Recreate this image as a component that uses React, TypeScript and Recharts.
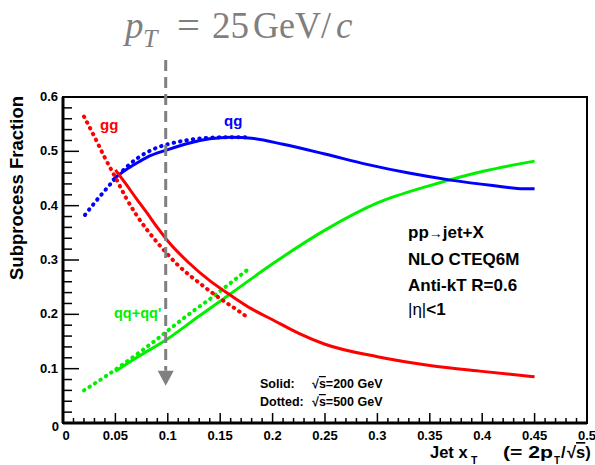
import React from 'react';
import { LineChart, Line, XAxis, YAxis, ReferenceLine, ReferenceDot, ReferenceArea } from 'recharts';

// ---- data (x_T, fraction) ----
const gg200X = [0.05, 0.06, 0.07, 0.08, 0.09, 0.1, 0.12, 0.14, 0.16, 0.18, 0.2, 0.225, 0.25, 0.3, 0.35, 0.4, 0.45];
const gg200Y = [0.466, 0.44, 0.413, 0.387, 0.36, 0.335, 0.295, 0.262, 0.235, 0.21, 0.19, 0.165, 0.145, 0.122, 0.106, 0.095, 0.085];
const gg500X = [0.02, 0.03, 0.04, 0.05, 0.06, 0.07, 0.08, 0.09, 0.1, 0.11, 0.12, 0.13, 0.14, 0.15, 0.16, 0.17, 0.178];
const gg500Y = [0.564, 0.527, 0.488, 0.452, 0.415, 0.383, 0.356, 0.332, 0.31, 0.29, 0.273, 0.258, 0.243, 0.229, 0.216, 0.203, 0.192];
const qg200X = [0.047, 0.06, 0.07, 0.08, 0.1, 0.12, 0.14, 0.16, 0.18, 0.21, 0.25, 0.29, 0.33, 0.37, 0.41, 0.44, 0.45];
const qg200Y = [0.447, 0.466, 0.478, 0.489, 0.503, 0.515, 0.523, 0.526, 0.524, 0.513, 0.495, 0.476, 0.46, 0.447, 0.437, 0.431, 0.431];
const qg500X = [0.021, 0.03, 0.04, 0.05, 0.06, 0.07, 0.08, 0.09, 0.1, 0.12, 0.14, 0.16, 0.178];
const qg500Y = [0.383, 0.405, 0.428, 0.45, 0.47, 0.486, 0.498, 0.507, 0.513, 0.521, 0.525, 0.526, 0.526];
const qq200X = [0.05, 0.07, 0.1, 0.13, 0.16, 0.2, 0.25, 0.3, 0.35, 0.4, 0.45];
const qq200Y = [0.095, 0.12, 0.155, 0.197, 0.238, 0.293, 0.355, 0.405, 0.437, 0.463, 0.482];
const qq500X = [0.02, 0.04, 0.06, 0.08, 0.1, 0.12, 0.14, 0.16, 0.178];
const qq500Y = [0.06, 0.085, 0.112, 0.14, 0.17, 0.2, 0.228, 0.258, 0.285];

const xTicks = Array.from({ length: 51 }, (_, i) => +(i * 0.01).toFixed(2));
const yTicks = Array.from({ length: 31 }, (_, i) => +(i * 0.02).toFixed(2));
const xLabels = ['0', '0.05', '0.1', '0.15', '0.2', '0.25', '0.3', '0.35', '0.4', '0.45', '0.5'];
const yLabels = ['0', '0.1', '0.2', '0.3', '0.4', '0.5', '0.6'];

const arrowX = 0.098;
const arrowTopY = 0.668;
const arrowBaseY = 0.096;
const arrowMidY = 0.0825;

const zip = (xs: number[], ys: number[]) => xs.map((x, i) => ({ x, y: ys[i] }));

const RED = '#ff0000';
const BLUE = '#0000ff';
const GREEN = '#00f000';
const FONT = '"Liberation Sans", Arial, Helvetica, sans-serif';

const isMajorX = (v: number) => Math.abs(v * 20 - Math.round(v * 20)) < 1e-6;
const isMajorY = (v: number) => Math.abs(v * 10 - Math.round(v * 10)) < 1e-6;

const XTick = (props: any) => {
  const { x, y, payload } = props;
  const v = payload.value as number;
  const major = isMajorX(v);
  const label = major ? xLabels[Math.round(v * 20)] : null;
  return (
    <g>
      <line x1={x} x2={x} y1={y} y2={y - (major ? 10 : 5)} stroke="#000" strokeWidth={1.5} />
      {label !== null && (
        <text x={label === '0' ? x + 3 : x} y={y + 17} textAnchor="middle" fontFamily={FONT} fontWeight="bold" fontSize={13} fill="#000">
          {label}
        </text>
      )}
    </g>
  );
};

const YTick = (props: any) => {
  const { x, y, payload } = props;
  const v = payload.value as number;
  const major = isMajorY(v);
  const label = major ? yLabels[Math.round(v * 10)] : null;
  return (
    <g>
      <line x1={x} x2={x + (major ? 16 : 9)} y1={y} y2={y} stroke="#000" strokeWidth={1.5} />
      {label !== null && (
        <text x={label === '0' ? x - 4 : x - 5} y={label === '0' ? y + 8 : y + 4} textAnchor="end" fontFamily={FONT} fontWeight="bold" fontSize={13} fill="#000">
          {label}
        </text>
      )}
    </g>
  );
};

const Triangle = (props: any) => {
  const { cx, cy } = props;
  return <polygon points={`${cx - 8},${cy - 7.5} ${cx + 8},${cy - 7.5} ${cx},${cy + 7.5}`} fill="#808080" />;
};

const solid = { strokeWidth: 3, dot: false, isAnimationActive: false, type: 'monotone' as const };
const dotted = { strokeWidth: 4, dot: false, isAnimationActive: false, type: 'monotone' as const, strokeDasharray: '0.5 6', strokeLinecap: 'round' as const };

export default function App() {
  return (
    <div style={{ position: 'absolute', left: 0, top: 0, width: 595, height: 465, background: '#fff' }}>
      <LineChart width={595} height={465} margin={{ top: 97, right: 8, bottom: 2, left: 3 }}>
        <XAxis
          type="number"
          dataKey="x"
          domain={[0, 0.5]}
          ticks={xTicks}
          interval={0}
          height={40}
          tickSize={0}
          tickMargin={0}
          tickLine={false}
          axisLine={{ stroke: '#000', strokeWidth: 3 }}
          tick={<XTick />}
          allowDataOverflow
        />
        <YAxis
          type="number"
          dataKey="y"
          domain={[0, 0.6]}
          ticks={yTicks}
          interval={0}
          width={60}
          tickSize={0}
          tickMargin={0}
          tickLine={false}
          axisLine={{ stroke: '#000', strokeWidth: 3 }}
          tick={<YTick />}
          allowDataOverflow
        />
        <ReferenceArea x1={0} x2={0.5} y1={0} y2={0.6} fill="none" stroke="#000" strokeWidth={2} ifOverflow="visible" />
        <Line data={zip(qq500X, qq500Y)} dataKey="y" stroke={GREEN} {...dotted} />
        <Line data={zip(qq200X, qq200Y)} dataKey="y" stroke={GREEN} {...solid} />
        <Line data={zip(qg500X, qg500Y)} dataKey="y" stroke={BLUE} {...dotted} />
        <Line data={zip(qg200X, qg200Y)} dataKey="y" stroke={BLUE} {...solid} />
        <Line data={zip(gg500X, gg500Y)} dataKey="y" stroke={RED} {...dotted} />
        <Line data={zip(gg200X, gg200Y)} dataKey="y" stroke={RED} {...solid} />
        <ReferenceLine
          segment={[{ x: arrowX, y: arrowTopY }, { x: arrowX, y: arrowBaseY }]}
          stroke="#808080"
          strokeWidth={3}
          strokeDasharray="11 6"
          ifOverflow="visible"
        />
        <ReferenceDot x={arrowX} y={arrowMidY} r={8} shape={<Triangle />} ifOverflow="visible" />
      </LineChart>
      <svg width={595} height={465} style={{ position: 'absolute', left: 0, top: 0, pointerEvents: 'none' }}>
        {/* title */}
        <g fill="#7f7f7f" fontFamily='"Liberation Serif", "DejaVu Serif", serif' fontSize={37}>
          <text x={125} y={38} fontStyle="italic">p</text>
          <text x={143} y={47} fontStyle="italic" fontSize={26}>T</text>
          <text x={177} y={38} textLength={23} lengthAdjust="spacingAndGlyphs">=</text>
          <text x={212} y={38}>25</text>
          <text x={253} y={38} textLength={78} lengthAdjust="spacingAndGlyphs">GeV/</text>
          <text x={336} y={38} fontStyle="italic">c</text>
        </g>
        {/* y axis title */}
        <text x={0} y={0} transform="translate(23,188) rotate(-90)" textAnchor="middle" fontFamily={FONT} fontWeight="bold" fontSize={18.5} fill="#000">
          Subprocess Fraction
        </text>
        {/* x axis title */}
        <g fontFamily={FONT} fontWeight="bold" fill="#000">
          <text x={430} y={458} fontSize={16.5}>Jet x</text>
          <text x={471} y={464} fontSize={10.5}>T</text>
          <text x={503} y={458} fontSize={16.5} textLength={50} lengthAdjust="spacingAndGlyphs">(= 2p</text>
          <text x={554} y={464} fontSize={10}>T</text>
          <text x={561} y={458} fontSize={16.5}>/</text>
          <text x={567} y={458} fontSize={16.5}>√<tspan textDecoration="overline">s</tspan>)</text>
        </g>
        {/* curve labels */}
        <text x={100} y={130} fontFamily={FONT} fontWeight="bold" fontSize={15} fill={RED}>gg</text>
        <text x={224} y={126} fontFamily={FONT} fontWeight="bold" fontSize={15} fill={BLUE}>qg</text>
        <text x={114} y={318} fontFamily={FONT} fontWeight="bold" fontSize={14.5} fill={GREEN}>qq+qq'</text>
        {/* process text */}
        <g fontFamily={FONT} fontWeight="bold" fontSize={17} fill="#000">
          <text x={408} y={238}>pp<tspan fontWeight="normal" fontSize={14}>→</tspan>jet+X</text>
          <text x={408} y={265}>NLO CTEQ6M</text>
          <text x={408} y={291}>Anti-kT R=0.6</text>
          <text x={408} y={315}><tspan fontWeight="normal">|η|</tspan>&lt;1</text>
        </g>
        {/* legend */}
        <g fontFamily={FONT} fontWeight="bold" fontSize={12.5} fill="#000">
          <text x={260} y={388}>Solid:</text>
          <text x={312} y={388}>√<tspan textDecoration="overline">s</tspan>=200 GeV</text>
          <text x={260} y={406}>Dotted:</text>
          <text x={312} y={406}>√<tspan textDecoration="overline">s</tspan>=500 GeV</text>
        </g>
      </svg>
    </div>
  );
}
